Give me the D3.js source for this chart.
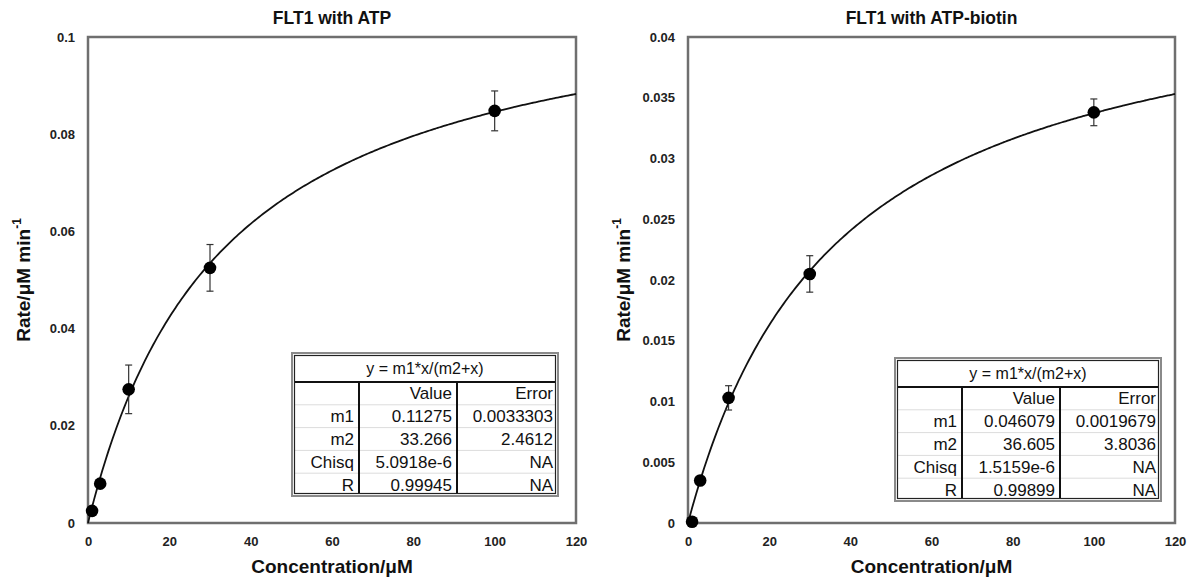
<!DOCTYPE html>
<html>
<head>
<meta charset="utf-8">
<script src="https://cdn.jsdelivr.net/npm/d3@7/dist/d3.min.js"></script>
<style>
  html, body { margin: 0; padding: 0; background: #fff; }
  svg { display: block; font-family: "Liberation Sans", Arial, Helvetica, sans-serif; }
</style>
</head>
<body>
<svg id="chart" width="1197" height="580"></svg>
<script>
// Substrate concentrations (µM) used in both assays
const concentrations = [1, 3, 10, 30, 100];

// FLT1 with ATP: measured rates and their error bars (µM/min)
const rateATP = [0.0025, 0.0081, 0.0275, 0.0525, 0.0848];
const errATP = [0.0003, 0.0004, 0.0050, 0.0048, 0.0041];

// FLT1 with ATP-biotin: measured rates and their error bars (µM/min)
const rateBiotin = [0.0001, 0.0035, 0.0103, 0.0205, 0.0338];
const errBiotin = [0.0001, 0.0002, 0.0010, 0.0015, 0.0011];

// Axis ticks
const xTicks = [0, 20, 40, 60, 80, 100, 120];
const yTicksATP = [0, 0.02, 0.04, 0.06, 0.08, 0.1];
const yTicksBiotin = [0, 0.005, 0.01, 0.015, 0.02, 0.025, 0.03, 0.035, 0.04];

// Michaelis–Menten fit results y = m1*x/(m2+x)
const fitFormula = "y = m1*x/(m2+x)";
const fitColumns = ["", "Value", "Error"];
const fitATP = { m1: 0.11275, m2: 33.266 };
const fitBiotin = { m1: 0.046079, m2: 36.605 };
const fitRowsATP = [
  ["m1", "0.11275", "0.0033303"],
  ["m2", "33.266", "2.4612"],
  ["Chisq", "5.0918e-6", "NA"],
  ["R", "0.99945", "NA"]
];
const fitRowsBiotin = [
  ["m1", "0.046079", "0.0019679"],
  ["m2", "36.605", "3.8036"],
  ["Chisq", "1.5159e-6", "NA"],
  ["R", "0.99899", "NA"]
];

const svg = d3.select("#chart");

function drawPanel(opts) {
  const { left, right, top, bottom } = opts;
  const g = svg.append("g");

  const x = d3.scaleLinear().domain([0, 120]).range([left, right]);
  const y = d3.scaleLinear().domain([0, opts.yMax]).range([bottom, top]);

  // title
  g.append("text")
    .attr("x", (left + right) / 2).attr("y", 24)
    .attr("text-anchor", "middle")
    .attr("font-size", 17.5).attr("font-weight", "bold").attr("fill", "#111")
    .text(opts.title);

  // tick labels (no tick marks, just the numbers)
  const yAxis = d3.axisLeft(y).tickValues(opts.yTicks).tickSize(0).tickPadding(13)
    .tickFormat(d => String(d));
  const xAxis = d3.axisBottom(x).tickValues(xTicks).tickSize(0).tickPadding(14)
    .tickFormat(d => String(d));

  const ya = g.append("g").attr("transform", `translate(${left},0)`).call(yAxis);
  const xa = g.append("g").attr("transform", `translate(0,${bottom})`).call(xAxis);
  [ya, xa].forEach(a => {
    a.select(".domain").remove();
    a.selectAll("text")
      .attr("font-size", 13).attr("font-weight", "bold").attr("fill", "#222")
      .attr("font-family", "Liberation Sans, Arial, sans-serif");
  });

  // plot frame
  g.append("rect")
    .attr("x", left).attr("y", top)
    .attr("width", right - left).attr("height", bottom - top)
    .attr("fill", "none").attr("stroke", "#6f6f6f").attr("stroke-width", 2.5);

  // axis titles
  g.append("text")
    .attr("x", (left + right) / 2).attr("y", 573)
    .attr("text-anchor", "middle")
    .attr("font-size", 19).attr("font-weight", "bold").attr("fill", "#111")
    .text("Concentration/μM");

  const yl = g.append("text")
    .attr("transform", `translate(${left - 58},${(top + bottom) / 2}) rotate(-90)`)
    .attr("text-anchor", "middle")
    .attr("font-size", 19).attr("font-weight", "bold").attr("fill", "#111");
  yl.append("tspan").text("Rate/μM min");
  yl.append("tspan").attr("font-size", 12).attr("dy", -9).text("-1");

  // fitted curve from the table's parameters
  const curveX = d3.range(0, 120.01, 0.5);
  const line = d3.line()
    .x(d => x(d))
    .y(d => y(opts.fit.m1 * d / (opts.fit.m2 + d)))
    .curve(d3.curveMonotoneX);
  g.append("path")
    .datum(curveX)
    .attr("d", line)
    .attr("fill", "none").attr("stroke", "#111").attr("stroke-width", 1.8);

  // error bars
  const pts = concentrations.map((c, i) => ({ c, v: opts.rates[i], e: opts.errs[i] }));
  const eb = g.append("g").attr("stroke", "#333").attr("stroke-width", 1.2);
  pts.forEach(p => {
    eb.append("line")
      .attr("x1", x(p.c)).attr("x2", x(p.c))
      .attr("y1", y(p.v - p.e)).attr("y2", y(p.v + p.e));
    [p.v - p.e, p.v + p.e].forEach(val => {
      eb.append("line")
        .attr("x1", x(p.c) - 3.5).attr("x2", x(p.c) + 3.5)
        .attr("y1", y(val)).attr("y2", y(val));
    });
  });

  // data points
  g.append("g").selectAll("circle")
    .data(pts).join("circle")
    .attr("cx", d => x(d.c)).attr("cy", d => y(d.v))
    .attr("r", 6.3).attr("fill", "#000");

  // fit result table
  const t = opts.table;
  const headerH = 29, rowH = 22.8;
  const tw = 266;
  const th = headerH + rowH * (t.rows.length + 1);
  const colEdges = [t.x, t.x + 67, t.x + 165, t.x + tw];
  const tg = g.append("g");

  tg.append("rect")
    .attr("x", t.x).attr("y", t.y).attr("width", tw).attr("height", th)
    .attr("fill", "#fff");

  // light row separators
  for (let r = 1; r <= t.rows.length; r++) {
    const yy = t.y + headerH + rowH * r;
    tg.append("line")
      .attr("x1", t.x + 3).attr("x2", t.x + tw - 3)
      .attr("y1", yy).attr("y2", yy)
      .attr("stroke", "#dcdcdc").attr("stroke-width", 1);
  }

  // header separator
  tg.append("line")
    .attr("x1", t.x + 2).attr("x2", t.x + tw - 2)
    .attr("y1", t.y + headerH).attr("y2", t.y + headerH)
    .attr("stroke", "#111").attr("stroke-width", 2);

  // column dividers
  [colEdges[1], colEdges[2]].forEach(cx => {
    tg.append("line")
      .attr("x1", cx).attr("x2", cx)
      .attr("y1", t.y + headerH).attr("y2", t.y + th - 2)
      .attr("stroke", "#111").attr("stroke-width", 2);
  });

  // double outer border
  tg.append("rect")
    .attr("x", t.x).attr("y", t.y).attr("width", tw).attr("height", th)
    .attr("fill", "none").attr("stroke", "#8a8a8a").attr("stroke-width", 2);
  tg.append("rect")
    .attr("x", t.x + 2.5).attr("y", t.y + 2.5).attr("width", tw - 5).attr("height", th - 5)
    .attr("fill", "none").attr("stroke", "#222").attr("stroke-width", 1.2);

  // header text
  tg.append("text")
    .attr("x", t.x + tw / 2).attr("y", t.y + headerH / 2 + 6)
    .attr("text-anchor", "middle")
    .attr("font-size", 16).attr("fill", "#111")
    .text(fitFormula);

  const allRows = [fitColumns].concat(t.rows);
  allRows.forEach((row, r) => {
    const yy = t.y + headerH + rowH * r + rowH / 2 + 6;
    row.forEach((cell, c) => {
      tg.append("text")
        .attr("x", colEdges[c + 1] - 5).attr("y", yy)
        .attr("text-anchor", "end")
        .attr("font-size", 17).attr("fill", "#111")
        .text(cell);
    });
  });
}

drawPanel({
  title: "FLT1 with ATP",
  left: 88, right: 576, top: 37, bottom: 523,
  yMax: 0.1, yTicks: yTicksATP,
  rates: rateATP, errs: errATP, fit: fitATP,
  table: { x: 292, y: 353, rows: fitRowsATP }
});

drawPanel({
  title: "FLT1 with ATP-biotin",
  left: 688, right: 1175, top: 37, bottom: 523,
  yMax: 0.04, yTicks: yTicksBiotin,
  rates: rateBiotin, errs: errBiotin, fit: fitBiotin,
  table: { x: 895, y: 358, rows: fitRowsBiotin }
});
</script>
</body>
</html>
